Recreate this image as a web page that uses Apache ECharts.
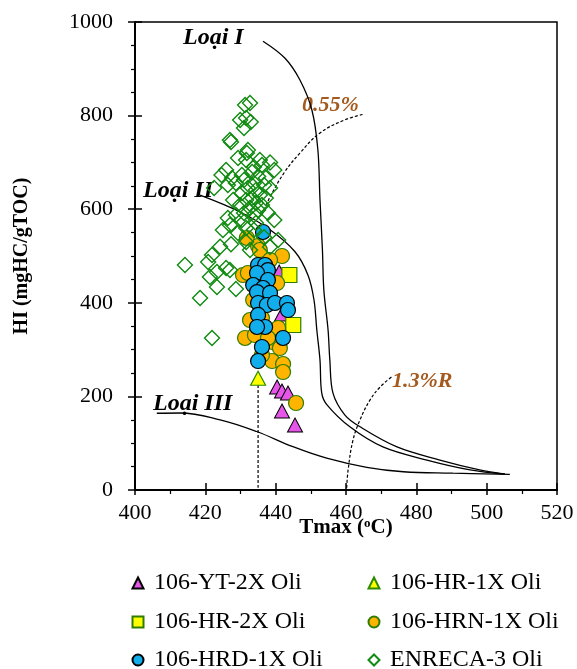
<!DOCTYPE html>
<html><head><meta charset="utf-8">
<script src="https://cdn.jsdelivr.net/npm/echarts@6/dist/echarts.min.js"></script>
<style>html,body{margin:0;padding:0;background:#fff}#c{width:577px;height:669px}</style>
</head><body><div id="c"></div>
<script>
// ---- data (Tmax °C, HI mgHC/gTOC) ----
const xTicks = [400, 420, 440, 460, 480, 500, 520];
const yTicks = [0, 200, 400, 600, 800, 1000];

const seriesNames = ['106-YT-2X Oli', '106-HR-1X Oli', '106-HR-2X Oli', '106-HRN-1X Oli', '106-HRD-1X Oli', 'ENRECA-3 Oli'];

const yt2x = [[441.0,465.8],[441.8,376],[439.8,320.5],[440.4,220],[441.8,211.5],[443.5,207.3],[441.8,168.8],[445.5,138.9]];
const hr1x = [[435.0,238.7]];
const hr2x = [[443.9,459.4],[445.0,352.6]];
const hrn1x = [[431.8,538.5],[435.0,521.4],[441.8,500],[430.7,459.4],[432.1,463.7],[440.4,442.3],[431.3,324.8],[440.7,346.2],
  [439.2,316.2],[441.2,303.4],[439.0,275.6],[442.1,269.2],[442.1,252.1],[445.8,185.9],[436.1,459.4],[433.6,406],
  [436.1,367.5],[434.1,331.2],[437.8,324.8],[436.1,288.5],[432.7,363.2],[435.5,512.8],[438.4,491.5]];
const hrd1x = [[436.4,551.3],[435.0,480.8],[437.0,480.8],[437.8,470],[434.7,463.7],[437.8,448.7],[433.6,438],[436.4,431.6],
  [434.7,423],[438.4,421],[435.0,399.6],[437.5,395.3],[439.8,399.6],[443.2,399.6],[443.5,384.6],[435.0,374],
  [437.0,348.3],[434.7,348.3],[442.1,324.8],[436.1,305.6],[435.0,275.6]];
const enreca3 = [[431.3,822.6],[432.7,826.9],[429.9,790.6],[431.6,794.9],[432.9,786.3],[431.0,773.5],[427.0,747.9],[427.3,743.6],
  [432.1,726.5],[431.8,720],[429.3,709.4],[431.6,705.1],[435.5,705.1],[438.4,700],[436.1,694.4],[433.8,690.2],
  [439.6,683.8],[425.9,683.8],[424.6,673.1],[427.6,666.7],[430.4,673.1],[433.3,679.5],[435.0,670],[437.2,666.7],
  [431.0,662.4],[433.8,656],[436.7,651.7],[428.7,656],[426.4,651.7],[422.5,645.3],[432.1,645.3],[434.4,641],
  [438.4,645.3],[430.4,634.6],[435.5,630.3],[433.3,623.9],[437.2,623.9],[431.6,619.7],[427.9,619.7],[434.4,613.2],
  [436.1,609],[429.9,609],[432.7,602.6],[435.0,598.3],[431.0,591.9],[437.8,591.9],[433.8,587.6],[428.7,587.6],
  [430.4,576.9],[426.4,581.2],[434.4,570.5],[439.6,576.9],[427.0,566.2],[431.6,559.8],[425.0,555.6],[429.3,549.1],
  [433.8,555.6],[436.7,540],[440.7,534.2],[431.6,530],[421.9,502.1],[420.8,487],[414.2,480.8],[423.3,465.8],
  [425.9,474.4],[427.0,470],[421.3,455.1],[423.3,433.8],[428.7,429.5],[418.5,410.3],[421.9,324.8],[427.3,525],
  [424.2,520],[438.4,519.2],[432.7,512.8]];

// kerogen type boundaries and maturity lines
const typeI = [[436.4,959],[442.6,923],[446.9,876],[450.3,812],[452.0,727],[452.6,620],[453.3,513],[453.7,427],
  [454.9,342],[455.4,278],[456.3,207],[459.7,160],[464.0,135],[474.5,92],[486.7,64],[498.0,43],[505.2,34]];
const typeII = [[418.5,630],[429.9,594],[438.4,556],[445.5,509],[449.2,459],[450.9,406],[451.7,342],[452.6,278],
  [453.1,207],[454.6,182],[461.1,135],[470.5,92],[483.0,64],[495.3,43],[505.2,34]];
const typeIII = [[406.2,164],[412.8,164.5],[424.2,150],[434.6,125],[444.9,92.5],[454.5,68],[465.9,48.5],[476.3,39],[490.4,36],[506.6,33.5]];
const ro055 = [[436.1,588],[438.4,626],[442.6,680],[446.9,720],[452.6,763],[459.7,791],[465.1,803]];
const ro13 = [[460.2,5],[460.6,43],[462.0,107],[464.0,150],[466.8,192],[469.7,220],[473.0,242]];
const tmaxLine = [[435,235],[435,5]];

const chart = echarts.init(document.getElementById('c'));
const serif = 'Liberation Serif';
const curve = (d, dashed, smooth) => ({
  type: 'line', data: d, symbol: 'none', smooth: smooth, silent: true, z: 3,
  lineStyle: { color: '#000', width: dashed ? 1.2 : 1.3, type: dashed ? [3, 2] : 'solid' }
});
const scat = (name, d, symbol, size, fill, border, bw, z) => ({
  name: name, type: 'scatter', data: d, symbol: symbol, symbolSize: size, z: z,
  itemStyle: { color: fill, borderColor: border, borderWidth: bw, opacity: 1 }
});
const brown = '#A45A1E';

// legend: 2 columns x 3 rows
const legendCols = [131.5, 367.5];
const legendRows = [571, 610, 648];
const legendOrder = [0, 1, 2, 3, 4, 5];
const legends = legendOrder.map((si, k) => ({
  data: [seriesNames[si]], left: legendCols[k % 2], top: legendRows[Math.floor(k / 2)], padding: 0,
  itemWidth: 11, itemHeight: 11,
  textStyle: { fontFamily: serif, fontSize: 24, color: '#000', lineHeight: 24, padding: [0, 0, 0, 5.5] }
}));

chart.setOption({
  animation: false,
  backgroundColor: '#fff',
  grid: { left: 135, right: 20, top: 22, bottom: 179, show: true, borderColor: '#000', borderWidth: 1.5, backgroundColor: 'transparent' },
  xAxis: [{
    type: 'value', min: xTicks[0], max: xTicks[xTicks.length-1], interval: 20,
    axisLine: { show: true, lineStyle: { color: '#000', width: 2 } },
    axisTick: { show: true, length: 5, lineStyle: { color: '#000', width: 1.5 } },
    minorTick: { show: true, splitNumber: 2, length: 4, lineStyle: { color: '#000', width: 1.2 } },
    splitLine: { show: false },
    axisLabel: { fontFamily: serif, fontSize: 22, color: '#000', margin: 12 },
    name: '{a|Tmax (}{s|o}{a|C)}', nameLocation: 'middle', nameGap: 27, nameMoveOverlap: false,
    nameTextStyle: { rich: {
      a: { fontFamily: serif, fontSize: 21, fontWeight: 'bold', color: '#000' },
      s: { fontFamily: serif, fontSize: 13, fontWeight: 'bold', color: '#000', verticalAlign: 'top', padding: [0,0,8,0] } } }
  }, {
    type: 'value', min: xTicks[0], max: xTicks[xTicks.length-1], interval: 20, position: 'bottom',
    axisLine: { show: false }, axisLabel: { show: false }, splitLine: { show: false },
    axisTick: { show: true, inside: true, length: 7, lineStyle: { color: '#000', width: 1.5 } }
  }],
  yAxis: [{
    type: 'value', min: yTicks[0], max: yTicks[yTicks.length-1], interval: 200,
    axisLine: { show: true, lineStyle: { color: '#000', width: 2 } },
    axisTick: { show: true, length: 7, lineStyle: { color: '#000', width: 1.5 } },
    minorTick: { show: true, splitNumber: 4, length: 4, lineStyle: { color: '#000', width: 1.2 } },
    splitLine: { show: false },
    axisLabel: { fontFamily: serif, fontSize: 22, color: '#000', margin: 22, formatter: v => String(v) },
    name: 'HI (mgHC/gTOC)', nameLocation: 'middle', nameGap: 103, nameRotate: 90,
    nameTextStyle: { fontFamily: serif, fontSize: 20, fontWeight: 'bold', color: '#000' }
  }, {
    type: 'value', min: yTicks[0], max: yTicks[yTicks.length-1], interval: 200, position: 'left',
    axisLine: { show: false }, axisLabel: { show: false }, splitLine: { show: false },
    axisTick: { show: true, inside: true, length: 7, lineStyle: { color: '#000', width: 1.5 } }
  }],
  legend: legends,
  series: [
    curve(typeI, false, 0.35), curve(typeII, false, 0.35), curve(typeIII, false, 0.4),
    curve(ro055, true, 0.4), curve(ro13, true, 0.4), curve(tmaxLine, true, false),
    scat(seriesNames[0], yt2x, 'triangle', [15, 14], '#E455E8', '#000', 1, 5),
    scat(seriesNames[1], hr1x, 'triangle', [15, 14], '#FFFF00', '#2E8B00', 1.2, 6),
    scat(seriesNames[2], hr2x, 'rect', [15, 15], '#FFFF00', '#2E7D00', 1.2, 7),
    scat(seriesNames[3], hrn1x, 'circle', 15, '#FFB400', '#2E7D00', 1.2, 8),
    scat(seriesNames[4], hrd1x, 'circle', 15, '#12AEEB', '#000', 1.2, 9),
    scat(seriesNames[5], enreca3, 'diamond', [15, 15], 'rgba(255,255,255,0)', '#118A11', 1.4, 10)
  ],
  graphic: [
    { type: 'text', left: 183, top: 26, style: { text: 'Loại I', fontFamily: serif, fontSize: 24, fontWeight: 'bold', fontStyle: 'italic', fill: '#000' } },
    { type: 'text', left: 143, top: 179, style: { text: 'Loại II', fontFamily: serif, fontSize: 24, fontWeight: 'bold', fontStyle: 'italic', fill: '#000' } },
    { type: 'text', left: 153, top: 392, style: { text: 'Loại III', fontFamily: serif, fontSize: 24, fontWeight: 'bold', fontStyle: 'italic', fill: '#000' } },
    { type: 'text', left: 302, top: 94, style: { text: '0.55%', fontFamily: serif, fontSize: 22, fontWeight: 'bold', fontStyle: 'italic', fill: brown } },
    { type: 'text', left: 392, top: 370, style: { text: '1.3%R', fontFamily: serif, fontSize: 22, fontWeight: 'bold', fontStyle: 'italic', fill: brown } }
  ]
});
</script>
</body></html>
